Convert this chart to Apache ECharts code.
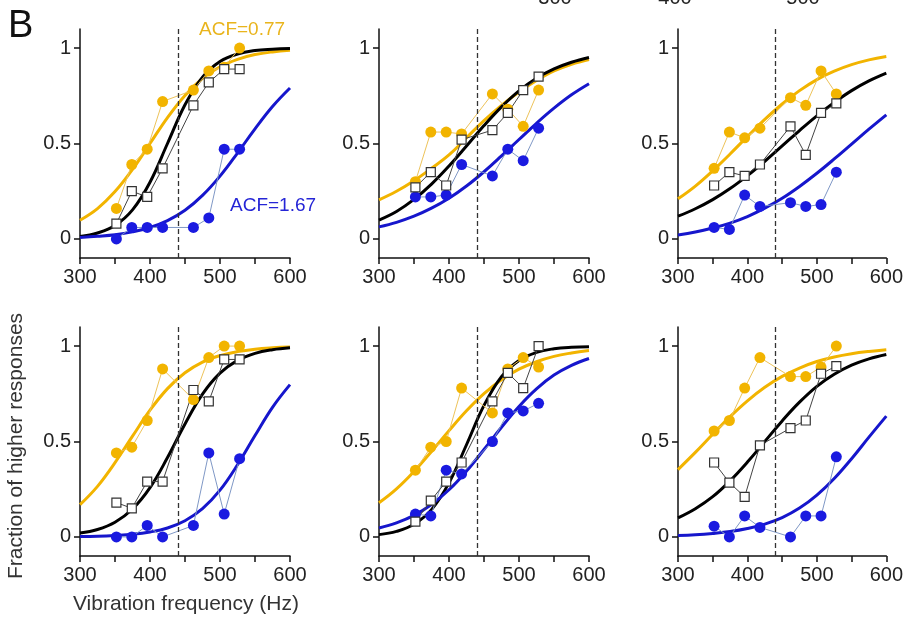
<!DOCTYPE html>
<html>
<head>
<meta charset="utf-8">
<script src="https://cdn.jsdelivr.net/npm/echarts@6/dist/echarts.min.js"></script>
<style>
  html, body { margin: 0; padding: 0; background: #fff; }
  #main { width: 906px; height: 617px; }
</style>
</head>
<body>
<div id="main"></div>
<script>
// fitted curves sampled every 25 Hz
const curveFreq = [300, 325, 350, 375, 400, 425, 450, 475, 500, 525, 550, 575, 600];
// tested vibration frequencies
const testFreq = [352, 374, 396, 418, 462, 484, 506, 528];
const refFreq = 440;

// one row per panel: top-left, top-mid, top-right, bottom-left, bottom-mid, bottom-right
const yellowFit = [
  [0.098, 0.159, 0.248, 0.364, 0.5, 0.636, 0.752, 0.841, 0.902, 0.941, 0.966, 0.98, 0.988],
  [0.205, 0.25, 0.305, 0.37, 0.44, 0.53, 0.62, 0.70, 0.77, 0.83, 0.88, 0.915, 0.94],
  [0.21, 0.277, 0.357, 0.445, 0.537, 0.626, 0.707, 0.777, 0.835, 0.879, 0.913, 0.938, 0.956],
  [0.169, 0.265, 0.389, 0.528, 0.664, 0.777, 0.86, 0.916, 0.95, 0.971, 0.984, 0.991, 0.995],
  [0.179, 0.252, 0.343, 0.448, 0.557, 0.661, 0.751, 0.824, 0.879, 0.918, 0.946, 0.964, 0.977],
  [0.353, 0.443, 0.538, 0.63, 0.713, 0.784, 0.841, 0.885, 0.919, 0.943, 0.96, 0.972, 0.981]
];
const blackFit = [
  [0.013, 0.031, 0.07, 0.152, 0.297, 0.5, 0.703, 0.848, 0.93, 0.969, 0.987, 0.994, 0.998],
  [0.099, 0.144, 0.207, 0.287, 0.382, 0.487, 0.594, 0.692, 0.776, 0.842, 0.891, 0.926, 0.951],
  [0.119, 0.158, 0.206, 0.264, 0.332, 0.407, 0.487, 0.568, 0.645, 0.715, 0.777, 0.828, 0.869],
  [0.02, 0.039, 0.077, 0.146, 0.258, 0.416, 0.592, 0.748, 0.858, 0.925, 0.962, 0.981, 0.991],
  [0.012, 0.029, 0.066, 0.143, 0.283, 0.483, 0.689, 0.84, 0.925, 0.967, 0.986, 0.994, 0.997],
  [0.1, 0.148, 0.211, 0.294, 0.392, 0.5, 0.608, 0.706, 0.789, 0.852, 0.9, 0.933, 0.956]
];
const blueFit = [
  [0.008, 0.014, 0.022, 0.037, 0.06, 0.096, 0.15, 0.228, 0.329, 0.45, 0.577, 0.694, 0.791],
  [0.063, 0.087, 0.119, 0.161, 0.213, 0.277, 0.352, 0.435, 0.521, 0.606, 0.685, 0.755, 0.813],
  [0.02, 0.036, 0.057, 0.083, 0.117, 0.161, 0.213, 0.275, 0.344, 0.419, 0.497, 0.575, 0.65],
  [0.002, 0.004, 0.008, 0.014, 0.026, 0.047, 0.085, 0.148, 0.245, 0.378, 0.531, 0.679, 0.798],
  [0.047, 0.074, 0.113, 0.17, 0.247, 0.345, 0.458, 0.575, 0.684, 0.776, 0.848, 0.899, 0.935],
  [0.007, 0.011, 0.018, 0.028, 0.044, 0.067, 0.101, 0.151, 0.219, 0.306, 0.41, 0.523, 0.633]
];

// measured fractions of higher responses
const yellowPts = [
  [0.16, 0.39, 0.47, 0.72, 0.78, 0.88, 0.90, 1.0],
  [0.30, 0.56, 0.56, 0.55, 0.76, 0.68, 0.59, 0.78],
  [0.37, 0.56, 0.53, 0.58, 0.74, 0.70, 0.88, 0.76],
  [0.44, 0.47, 0.61, 0.88, 0.72, 0.94, 1.0, 1.0],
  [0.35, 0.47, 0.50, 0.78, 0.65, 0.88, 0.94, 0.89],
  [0.555, 0.61, 0.78, 0.94, 0.84, 0.84, 0.89, 1.0]
];
const blackPts = [
  [0.08, 0.25, 0.22, 0.37, 0.70, 0.82, 0.89, 0.89],
  [0.27, 0.35, 0.28, 0.52, 0.57, 0.66, 0.78, 0.85],
  [0.28, 0.35, 0.33, 0.39, 0.59, 0.44, 0.66, 0.71],
  [0.18, 0.15, 0.29, 0.29, 0.77, 0.71, 0.93, 0.93],
  [0.08, 0.19, 0.29, 0.39, 0.71, 0.86, 0.78, 1.0],
  [0.39, 0.285, 0.21, 0.48, 0.57, 0.61, 0.855, 0.895]
];
const bluePts = [
  [0.0, 0.06, 0.06, 0.06, 0.06, 0.11, 0.47, 0.47],
  [0.22, 0.22, 0.23, 0.39, 0.33, 0.47, 0.41, 0.58],
  [0.06, 0.05, 0.23, 0.17, 0.19, 0.17, 0.18, 0.35],
  [0.0, 0.0, 0.06, 0.0, 0.06, 0.44, 0.12, 0.41],
  [0.12, 0.11, 0.35, 0.33, 0.50, 0.65, 0.66, 0.70],
  [0.056, 0.0, 0.11, 0.05, 0.0, 0.11, 0.11, 0.42]
];

const yTicks = [0, 0.5, 1];

const font = "'Liberation Sans', Arial, Helvetica, sans-serif";
const YELLOW = '#F2B400';
const BLACK = '#000000';
const BLUE = '#1616CC';

const chart = echarts.init(document.getElementById('main'), null, { renderer: 'canvas' });

const lefts = [80, 379, 678];
const tops = [29, 327];
let grids = [], xAxes = [], yAxes = [], series = [];

for (let i = 0; i < 6; i++) {
  grids.push({ left: lefts[i % 3], top: tops[Math.floor(i / 3)], width: 210, height: 229 });
  xAxes.push({
    gridIndex: i, type: 'value', min: 300, max: 600, interval: 50,
    axisLine: { show: true, onZero: false, lineStyle: { color: '#111', width: 1.5 } },
    axisTick: { show: true, length: 6, lineStyle: { color: '#111', width: 1.5 } },
    axisLabel: {
      fontSize: 20, color: '#222', fontFamily: font, margin: 9,
      formatter: v => (v % 100 ? '' : String(v))
    },
    splitLine: { show: false }
  });
  yAxes.push({
    gridIndex: i, type: 'value', min: -0.1, max: 1.1,
    axisLine: { show: true, onZero: false, lineStyle: { color: '#111', width: 1.5 } },
    axisTick: { show: true, length: 6, customValues: yTicks, lineStyle: { color: '#111', width: 1.5 } },
    axisLabel: {
      fontSize: 20, color: '#222', fontFamily: font, margin: 9, customValues: yTicks,
      formatter: v => String(v)
    },
    splitLine: { show: false }
  });

  const fits = [[yellowFit[i], YELLOW], [blackFit[i], BLACK], [blueFit[i], BLUE]];
  fits.forEach(([vals, col], k) => {
    const s = {
      type: 'line', xAxisIndex: i, yAxisIndex: i,
      data: curveFreq.map((f, j) => [f, vals[j]]),
      smooth: 0.4, showSymbol: false, silent: true,
      lineStyle: { color: col, width: 3 }
    };
    if (k === 0) {
      s.markLine = {
        silent: true, symbol: 'none', label: { show: false },
        lineStyle: { color: '#333', width: 1.3, type: [5, 3] },
        data: [{ xAxis: refFreq }]
      };
    }
    series.push(s);
  });

  series.push({
    type: 'line', xAxisIndex: i, yAxisIndex: i,
    data: testFreq.map((f, j) => [f, yellowPts[i][j]]),
    symbol: 'circle', symbolSize: 11,
    itemStyle: { color: YELLOW },
    lineStyle: { color: '#EDC35A', width: 1 }
  });
  series.push({
    type: 'line', xAxisIndex: i, yAxisIndex: i,
    data: testFreq.map((f, j) => [f, bluePts[i][j]]),
    symbol: 'circle', symbolSize: 11,
    itemStyle: { color: '#1A1AE0' },
    lineStyle: { color: '#7F98C6', width: 1 }
  });
  series.push({
    type: 'line', xAxisIndex: i, yAxisIndex: i,
    data: testFreq.map((f, j) => [f, blackPts[i][j]]),
    symbol: 'rect', symbolSize: 9,
    itemStyle: { color: '#fff', borderColor: '#333', borderWidth: 1.2 },
    lineStyle: { color: '#444', width: 1 }
  });
}

const option = {
  animation: false,
  backgroundColor: '#fff',
  grid: grids,
  xAxis: xAxes,
  yAxis: yAxes,
  series: series,
  graphic: [
    { type: 'text', left: 8, top: 8, style: { text: 'B', fontSize: 38, fontFamily: font, fill: '#111' } },
    { type: 'text', x: 199, y: 30, style: { text: 'ACF=0.77', fontSize: 19, fontFamily: font, fill: '#E9B41C', textVerticalAlign: 'middle' } },
    { type: 'text', x: 230, y: 206, style: { text: 'ACF=1.67', fontSize: 19, fontFamily: font, fill: '#2525D6', textVerticalAlign: 'middle' } },
    { type: 'text', x: 16, y: 446, rotation: Math.PI / 2,
      style: { text: 'Fraction of higher responses', fontSize: 21, fontFamily: font, fill: '#333', textAlign: 'center', textVerticalAlign: 'middle' } },
    { type: 'text', x: 186, y: 604,
      style: { text: 'Vibration frequency (Hz)', fontSize: 21, fontFamily: font, fill: '#333', textAlign: 'center', textVerticalAlign: 'middle' } },
    // tick labels of the panel above, cut off by the top edge
    { type: 'text', x: 555, y: -2, style: { text: '300', fontSize: 20, fontFamily: font, fill: '#222', textAlign: 'center', textVerticalAlign: 'middle' } },
    { type: 'text', x: 675, y: -2, style: { text: '400', fontSize: 20, fontFamily: font, fill: '#222', textAlign: 'center', textVerticalAlign: 'middle' } },
    { type: 'text', x: 803, y: -2, style: { text: '500', fontSize: 20, fontFamily: font, fill: '#222', textAlign: 'center', textVerticalAlign: 'middle' } }
  ]
};

chart.setOption(option);
</script>
</body>
</html>
